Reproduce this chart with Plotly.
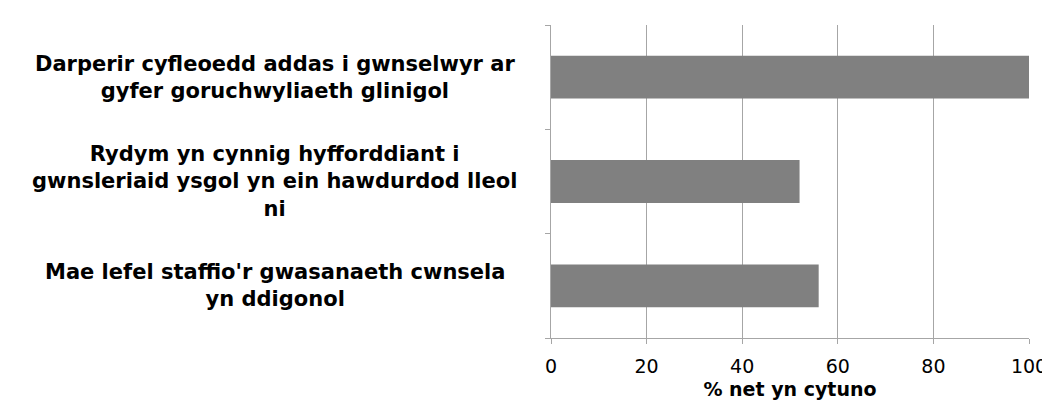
import plotly.graph_objects as go

categories = [
    "Darperir cyfleoedd addas i gwnselwyr ar<br>gyfer goruchwyliaeth glinigol",
    "Rydym yn cynnig hyfforddiant i<br>gwnsleriaid ysgol yn ein hawdurdod lleol<br>ni",
    "Mae lefel staffio'r gwasanaeth cwnsela<br>yn ddigonol",
]
values = [100, 52, 56]
x_ticks = [0, 20, 40, 60, 80, 100]
x_title = "% net yn cytuno"

LABEL_FONT = dict(family="DejaVu Sans, sans-serif", size=21, color="#000000")

fig = go.Figure()
fig.add_trace(go.Bar(
    x=values, y=list(range(len(categories))), orientation="h",
    marker=dict(color="#808080", line=dict(width=0)),
    hoverinfo="x",
))

for i, c in enumerate(categories):
    fig.add_annotation(
        x=-0.578, xref="paper", y=i, yref="y", text="<b>%s</b>" % c,
        showarrow=False, xanchor="center", yanchor="middle", align="center",
        font=LABEL_FONT,
    )

fig.update_layout(
    width=1050, height=403,
    margin=dict(l=543, r=29, t=17, b=73),
    paper_bgcolor="white", plot_bgcolor="white",
    bargap=0.59, showlegend=False,
    xaxis=dict(
        range=[0, 100], tickvals=x_ticks, ticktext=[str(t) for t in x_ticks],
        showgrid=True, gridcolor="#a6a6a6", gridwidth=1,
        showline=True, linecolor="#a6a6a6", linewidth=1,
        ticks="outside", ticklen=5, tickcolor="#a6a6a6",
        ticklabelstandoff=6,
        tickfont=dict(family="DejaVu Sans, sans-serif", size=19, color="#000000"),
        title=dict(text="<b>%s</b>" % x_title, standoff=6,
                   font=dict(family="DejaVu Sans, sans-serif", size=19, color="#000000")),
        zeroline=False, fixedrange=True,
    ),
    yaxis=dict(
        type="linear", range=[2.5, -0.5],
        tickvals=[-0.5, 0.5, 1.5, 2.5], showticklabels=False,
        showgrid=False, zeroline=False,
        showline=True, linecolor="#a6a6a6", linewidth=1,
        ticks="outside", ticklen=5, tickcolor="#a6a6a6",
        fixedrange=True,
    ),
)

fig.write_html("out.html")
